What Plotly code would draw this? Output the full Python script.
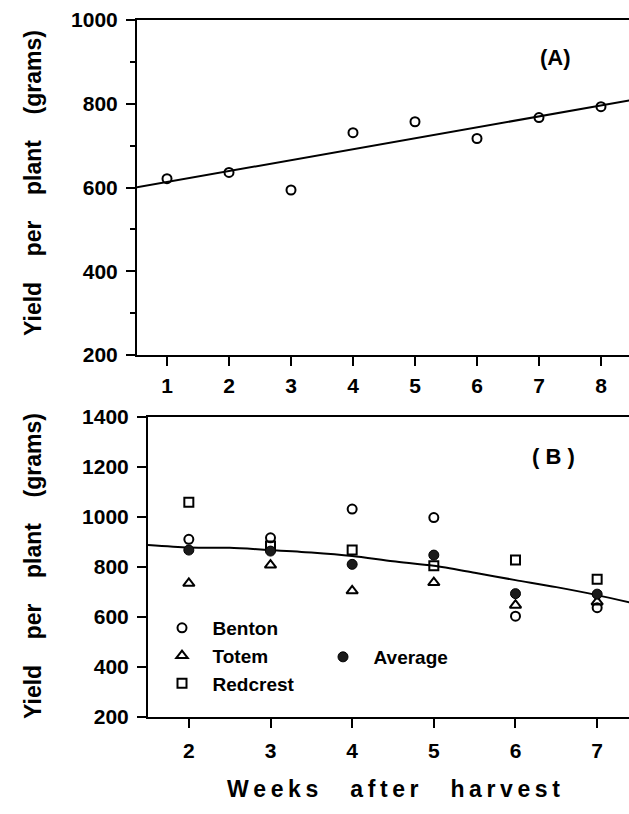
import plotly.graph_objects as go

# ---- Panel A data ----
weeks_a = [1, 2, 3, 4, 5, 6, 7, 8]
yield_a = [621, 636, 594, 731, 757, 717, 767, 793]
fit_a_x = [0, 9]
fit_a_y = [587, 822]

# ---- Panel B data ----
weeks_b = [2, 3, 4, 5, 6, 7]
benton = [910, 916, 1031, 997, 603, 637]
totem = [734, 807, 704, 737, 647, 660]
redcrest = [1058, 883, 867, 804, 827, 750]
average = [867, 863, 810, 847, 693, 691]
curve_b_x = [1.5, 2, 2.5, 3, 3.5, 4, 4.5, 5, 5.5, 6, 6.5, 7, 7.5]
curve_b_y = [887, 877, 876, 867, 857, 843, 822, 804, 776, 747, 719, 687, 650]

ticks_a_x = [1, 2, 3, 4, 5, 6, 7, 8]
ticks_a_y = [200, 400, 600, 800, 1000]
ticks_b_x = [2, 3, 4, 5, 6, 7]
ticks_b_y = [200, 400, 600, 800, 1000, 1200, 1400]

W, H = 629, 814
FONT = "Liberation Sans, Arial, Helvetica, sans-serif"
NB = "\u00a0"

fig = go.Figure()

# Panel A
fig.add_trace(go.Scatter(x=fit_a_x, y=fit_a_y, mode="lines",
                         line=dict(color="black", width=2),
                         xaxis="x", yaxis="y", showlegend=False, hoverinfo="skip"))
fig.add_trace(go.Scatter(x=weeks_a, y=yield_a, mode="markers",
                         marker=dict(symbol="circle-open", size=9, color="black",
                                     line=dict(width=2, color="black")),
                         xaxis="x", yaxis="y", showlegend=False))

# Panel B
fig.add_trace(go.Scatter(x=curve_b_x, y=curve_b_y, mode="lines",
                         line=dict(color="black", width=2, shape="spline", smoothing=0.8),
                         xaxis="x2", yaxis="y2", showlegend=False, hoverinfo="skip"))
mk = dict(color="black", line=dict(width=2, color="black"))
fig.add_trace(go.Scatter(x=weeks_b, y=benton, mode="markers", name=NB * 2 + "Benton",
                         marker=dict(symbol="circle-open", size=9, **mk),
                         xaxis="x2", yaxis="y2", legend="legend"))
fig.add_trace(go.Scatter(x=weeks_b, y=totem, mode="markers", name=NB * 2 + "Totem",
                         marker=dict(symbol="triangle-up-open", size=10, **mk),
                         xaxis="x2", yaxis="y2", legend="legend"))
fig.add_trace(go.Scatter(x=weeks_b, y=redcrest, mode="markers", name=NB * 2 + "Redcrest",
                         marker=dict(symbol="square-open", size=9, **mk),
                         xaxis="x2", yaxis="y2", legend="legend"))
fig.add_trace(go.Scatter(x=weeks_b, y=average, mode="markers", name=NB * 2 + "Average",
                         marker=dict(symbol="circle", size=10, color="#1a1a1a",
                                     line=dict(width=1, color="black")),
                         xaxis="x2", yaxis="y2", legend="legend2"))

tickfont = dict(family=FONT, size=21, color="black", weight="bold")
axis_common = dict(showline=True, linecolor="black", linewidth=2, ticks="outside",
                   tickcolor="black", tickwidth=2, ticklen=9, showgrid=False,
                   zeroline=False, tickfont=tickfont, automargin=False, fixedrange=True)

bold = lambda s: dict(family=FONT, size=s, color="black", weight="bold")
ytitle = "Yield" + NB * 4 + "per" + NB * 4 + "plant" + NB * 4 + "(grams)"

fig.update_layout(
    width=W, height=H,
    margin=dict(l=0, r=0, t=0, b=0),
    paper_bgcolor="white", plot_bgcolor="white",
    xaxis=dict(domain=[137 / W, 1], range=[0.516, 8.452], anchor="y",
               tickvals=ticks_a_x, mirror=True, ticklabelstandoff=2, **axis_common),
    yaxis=dict(domain=[1 - 355 / H, 1 - 20 / H], range=[200, 1000], anchor="x",
               tickvals=ticks_a_y, ticklabelstandoff=4,
               minor=dict(dtick=100, tick0=200, ticks="outside", ticklen=5,
                          tickwidth=2, tickcolor="black"),
               **axis_common),
    xaxis2=dict(domain=[148 / W, 1], range=[1.5, 7.39], anchor="y2",
                tickvals=ticks_b_x, mirror=True, ticklabelstandoff=5, **axis_common),
    yaxis2=dict(domain=[1 - 717 / H, 1 - 416.7 / H], range=[200, 1400], anchor="x2",
                tickvals=ticks_b_y, ticklabelstandoff=4, **axis_common),
    legend=dict(x=162 / W, y=1 - 656 / H, xanchor="left", yanchor="middle",
                bgcolor="rgba(0,0,0,0)", borderwidth=0, tracegroupgap=0,
                font=bold(19), itemwidth=30),
    legend2=dict(x=323 / W, y=1 - 657 / H, xanchor="left", yanchor="middle",
                 bgcolor="rgba(0,0,0,0)", borderwidth=0,
                 font=bold(19), itemwidth=30),
    annotations=[
        dict(text="(A)", x=555 / W, y=1 - 58 / H, xref="paper", yref="paper",
             xanchor="center", yanchor="middle", showarrow=False, font=bold(22)),
        dict(text="(" + NB + "B" + NB + ")", x=553 / W, y=1 - 456 / H, xref="paper",
             yref="paper", xanchor="center", yanchor="middle", showarrow=False,
             font=bold(22)),
        dict(text=ytitle, x=33 / W, y=1 - 183 / H, xref="paper", yref="paper",
             textangle=-90, xanchor="center", yanchor="middle", showarrow=False,
             font=bold(23)),
        dict(text=ytitle, x=33 / W, y=1 - 566 / H, xref="paper", yref="paper",
             textangle=-90, xanchor="center", yanchor="middle", showarrow=False,
             font=bold(23)),
        dict(text=("\u2009".join("Weeks") + NB * 5 + "\u2009".join("after") + NB * 5
                   + "\u2009".join("harvest")),
             x=393 / W, y=1 - 789 / H, xref="paper", yref="paper",
             xanchor="center", yanchor="middle", showarrow=False, font=bold(23)),
    ],
)

fig.write_html("out.html", config={"displayModeBar": False},
               post_script="document.body.style.margin='0';")
